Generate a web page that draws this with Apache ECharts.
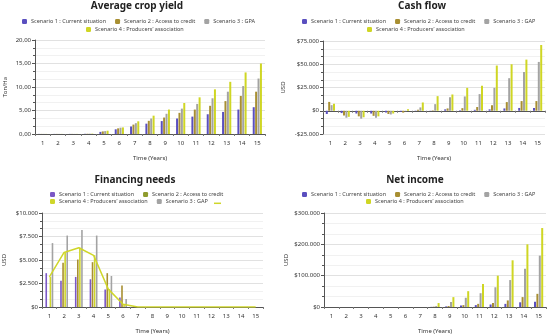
<!DOCTYPE html>
<html><head><meta charset="utf-8">
<script src="https://cdn.jsdelivr.net/npm/echarts@6/dist/echarts.min.js"></script>
<style>html,body{margin:0;padding:0;background:#fff}#c{width:550px;height:335px}</style>
</head><body><div id="c"></div><script>
const years = ['1','2','3','4','5','6','7','8','9','10','11','12','13','14','15'];
// Average crop yield (Ton/Ha)
const yieldS1 = [0.02,0.02,0.02,0.04,0.45,1.0,1.6,2.2,2.75,3.3,3.7,4.2,4.7,5.2,5.7];
const yieldS2 = [0.02,0.02,0.02,0.05,0.55,1.2,2.0,2.8,3.5,4.5,5.2,6.0,7.0,8.1,9.0];
const yieldS3 = [0.02,0.02,0.02,0.06,0.62,1.35,2.3,3.3,4.3,5.4,6.4,7.6,9.0,10.2,11.8];
const yieldS4 = [0.02,0.02,0.02,0.07,0.7,1.4,2.7,3.9,5.2,6.6,7.8,9.5,11.1,13.1,15.0];
// Cash flow (USD)
const cashS1 = [-3500,-2500,-3000,-3000,-2000,-1000,300,200,1500,500,1000,1500,2500,3000,3000];
const cashS2 = [9500,-5000,-6000,-5500,-3500,-2000,1000,500,2500,2800,4000,6000,9300,10400,10400];
const cashS3 = [6000,-7500,-8500,-7500,-4000,-500,3600,7100,14600,15400,17900,24600,35000,41800,52500];
const cashS4 = [7500,-6500,-7000,-6000,-3000,1500,8900,15700,17500,24600,26800,48600,50000,55000,70700];
// Financing needs (USD)
const finS1 = [3600,2800,3200,2950,1850,1000,0,0,0,0,0,0,0,0,0];
const finS2 = [0,4700,5050,4770,3600,2300,0,0,0,0,0,0,0,0,0];
const finS4 = [3200,5800,6300,5500,1900,300,0,0,0,0,0,0,0,0,0];
const finS3 = [6800,7600,8200,7600,3300,850,0,0,0,0,0,0,0,0,0];
// Net income (USD)
const incS1 = [0,0,0,0,0,0,0,500,2000,5000,6000,8000,10000,15000,17000];
const incS2 = [0,0,0,0,0,0,0,1000,3000,6000,10000,12600,21000,31600,42000];
const incS3 = [0,0,0,0,0,0,0,3000,15800,29500,44000,63000,86000,122000,164000];
const incS4 = [0,0,0,0,0,0,0,12600,31500,50500,73700,100000,149000,200000,252000];

const N1 = 'Scenario 1 : Current situation';
const N2 = 'Scenario 2 : Access to credit';
const N3a = 'Scenario 3 : GPA';
const N3 = 'Scenario 3 : GAP';
const N4 = 'Scenario 4 : Producers\u2019 association';
const NL = ' ';

const C1 = '#5a4fbf', C2 = '#a88f32', C3 = '#a3a3a3', C4 = '#cfd624';
const F1 = '#7b58c6', F2 = '#8f9b2e', F3 = '#a3a3a3', F4 = '#cfd62a';

const FONT = 'Noto Sans';
function money(v){
  const a = Math.abs(v);
  const s = String(a).replace(/\B(?=(\d{3})+(?!\d))/g,'.');
  return (v<0?'-':'') + '$' + s;
}
function dec(v){ return v.toFixed(2).replace('.',','); }

const grids = [
  {left:35, right:285, top:40, bottom:201},
  {left:323, right:5, top:41, bottom:201},
  {left:42, right:287, top:213, bottom:27},
  {left:324, right:4, top:213, bottom:27}
];
function xAxis(i){
  return {type:'category', gridIndex:i, data:years,
    axisLine:{lineStyle:{color:'#555', width:1}},
    axisTick:{show:true, length:2, lineStyle:{color:'#777'}},
    axisLabel:{fontSize:6, color:'#333', margin:6, fontFamily:FONT, interval:0},
    name:'Time (Years)', nameLocation:'middle', nameGap:21,
    nameTextStyle:{fontSize:6, color:'#333', fontFamily:FONT}};
}
function yAxis(i, min, max, interval, fmt, name){
  return {type:'value', gridIndex:i, min:min, max:max, interval:interval,
    axisLine:{show:true, lineStyle:{color:'#555', width:1}},
    axisTick:{show:true, length:3, lineStyle:{color:'#555'}},
    minorTick:{show:true, splitNumber:3, length:2, lineStyle:{color:'#555'}},
    splitLine:{lineStyle:{color:'#d9d9d9', width:0.8}},
    minorSplitLine:{show:true, lineStyle:{color:'#eeeeee', width:0.8}},
    axisLabel:{fontSize:6, color:'#333', margin:4, fontFamily:FONT, formatter:fmt},
    name:name, nameLocation:'middle', nameGap:i===0?27:(i===1?37:35), nameRotate:90,
    nameTextStyle:{fontSize:6, color:'#333', fontFamily:FONT}};
}
function bar(name, data, color, i, w, gap){
  return {type:'bar', name:name, data:data, xAxisIndex:i, yAxisIndex:i,
    barWidth:w, barGap:gap, itemStyle:{color:color}, animation:false};
}
function legend(left, top, items, w, h){
  return {left:left, top:top, padding:0, itemWidth:w||5, itemHeight:h||5, itemGap:9,
    textStyle:{fontSize:5.5, color:'#444', fontFamily:FONT, padding:[0,0,0,-1]},
    data:items.map(it => Object.assign({name:it[0], itemStyle:{color:it[1]}}, it[2]||{})),
    selectedMode:false};
}
function title(text, x, top){
  return {text:text, left:x, top:top, padding:0, textAlign:'center',
    textStyle:{fontSize:10, fontWeight:'bold', color:'#222', fontFamily:FONT}};
}

const option = {
  backgroundColor:'#fff',
  animation:false,
  title:[
    title('Average crop yield', 137, 1),
    title('Cash flow', 422, 1),
    title('Financing needs', 135, 175),
    title('Net income', 415, 175)
  ],
  legend:[
    legend(22, 18.5, [[N1,C1],[N2,C2],[N3a,C3]]),
    legend(86, 26.5, [[N4,C4]]),
    legend(302, 18.5, [[N1,C1],[N2,C2],[N3,C3]]),
    legend(367, 26.5, [[N4,C4]]),
    legend(50, 191.5, [[N1,F1],[N2,F2]]),
    legend(50, 198.5, [[N4,F4],[N3,F3]]),
    legend(214, 200.3, [[NL,F4,{icon:'rect'}]], 7, 1.5),
    legend(302, 191.5, [[N1,C1],[N2,C2],[N3,C3]]),
    legend(366, 198.5, [[N4,C4]])
  ],
  grid:grids,
  xAxis:[xAxis(0),xAxis(1),xAxis(2),xAxis(3)],
  yAxis:[
    yAxis(0,0,20,5,dec,'Ton/Ha'),
    yAxis(1,-25000,75000,25000,money,'USD'),
    yAxis(2,0,10000,2500,money,'USD'),
    yAxis(3,0,300000,100000,money,'USD')
  ],
  series:[
    bar(N1,yieldS1,C1,0,2,'20%'),
    bar(N2,yieldS2,C2,0,2,'20%'),
    bar(N3a,yieldS3,C3,0,2,'20%'),
    bar(N4,yieldS4,C4,0,2,'20%'),
    bar(N1,cashS1,C1,1,2,'20%'),
    bar(N2,cashS2,C2,1,2,'20%'),
    bar(N3,cashS3,C3,1,2,'20%'),
    bar(N4,cashS4,C4,1,2,'20%'),
    bar(N1,finS1,F1,2,1.6,'30%'),
    bar(N2,finS2,C2,2,1.6,'30%'),
    bar(N4,finS4,F4,2,1.6,'30%'),
    bar(N3,finS3,F3,2,1.6,'30%'),
    {type:'line', name:NL, data:finS4, xAxisIndex:2, yAxisIndex:2, symbol:'none',
     lineStyle:{color:F4, width:1.5}, itemStyle:{color:F4}, z:3},
    bar(N1,incS1,C1,3,2,'20%'),
    bar(N2,incS2,C2,3,2,'20%'),
    bar(N3,incS3,C3,3,2,'20%'),
    bar(N4,incS4,C4,3,2,'20%')
  ]
};
const chart = echarts.init(document.getElementById('c'), null, {renderer:'canvas'});
chart.setOption(option);
</script></body></html>
